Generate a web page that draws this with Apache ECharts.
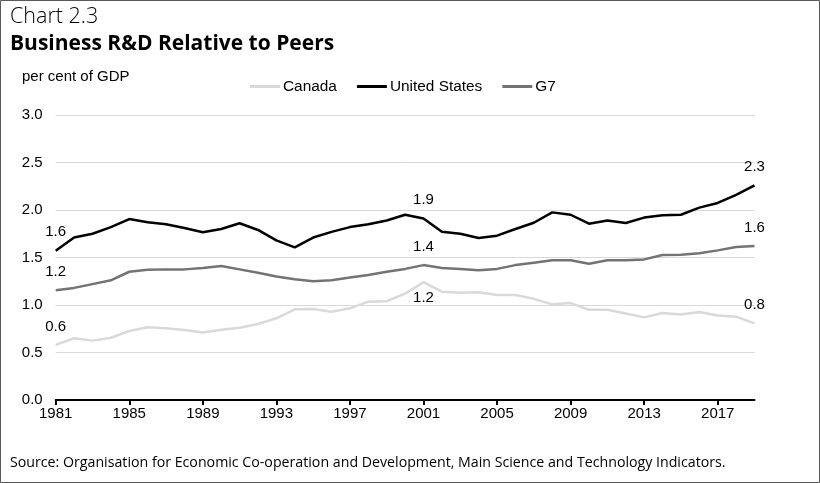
<!DOCTYPE html>
<html><head><meta charset="utf-8">
<script src="https://cdn.jsdelivr.net/npm/echarts@6/dist/echarts.min.js"></script>
<style>html,body{margin:0;padding:0;background:#fff}#c{width:820px;height:483px}</style>
</head><body><div id="c"></div>
<script>
const years = [];
for (let y = 1981; y <= 2019; y++) years.push(String(y));
const canada = [0.58,0.65,0.625,0.655,0.726,0.765,0.755,0.737,0.71,0.74,0.76,0.80,0.86,0.955,0.958,0.93,0.965,1.035,1.04,1.12,1.24,1.14,1.13,1.135,1.105,1.105,1.065,1.007,1.02,0.95,0.95,0.91,0.87,0.915,0.90,0.926,0.89,0.877,0.807];
const us = [1.57,1.71,1.75,1.82,1.905,1.87,1.85,1.81,1.765,1.80,1.86,1.79,1.68,1.607,1.71,1.77,1.82,1.85,1.89,1.95,1.91,1.77,1.75,1.705,1.73,1.80,1.866,1.975,1.95,1.856,1.89,1.863,1.92,1.944,1.95,2.025,2.074,2.16,2.26];
const g7 = [1.155,1.18,1.22,1.26,1.35,1.37,1.375,1.375,1.39,1.41,1.375,1.34,1.30,1.27,1.25,1.26,1.29,1.315,1.35,1.38,1.42,1.39,1.38,1.365,1.38,1.42,1.445,1.47,1.47,1.435,1.47,1.47,1.48,1.526,1.53,1.544,1.575,1.61,1.62];
const labelIdx = [0, 20, 38];

function withLabels(arr, posFn) {
  return arr.map((v, i) => labelIdx.includes(i) ? {
    value: v,
    label: {show: true, position: posFn(i), distance: posFn(i) === 'top' ? 11 : 8, formatter: p => (+p.value).toFixed(1),
      fontFamily: 'Liberation Sans', fontSize: 15, color: '#000'}
  } : v);
}

const chart = echarts.init(document.getElementById('c'));
chart.setOption({
  animation: false,
  graphic: [
    {type: 'rect', shape: {x: 0.5, y: 0.5, width: 819, height: 482}, style: {fill: 'none', stroke: '#595959', lineWidth: 1}},
    {type: 'text', left: 10, top: 6, style: {text: 'Chart 2.3', font: '300 21.5px "Open Sans"', fill: '#000'}},
    {type: 'text', left: 10, top: 34, style: {text: 'Business R&D Relative to Peers', font: 'bold 21px "Open Sans"', fill: '#000'}},
    {type: 'text', left: 22, top: 69, style: {text: 'per cent of GDP', font: '15px "Liberation Sans"', fill: '#000'}},
    {type: 'text', left: 10, top: 456, style: {text: 'Source: Organisation for Economic Co-operation and Development, Main Science and Technology Indicators.', font: '14.2px "Open Sans"', fill: '#000'}}
  ],
  legend: {
    top: 74, left: 245, itemWidth: 30, itemHeight: 3, itemGap: 20,
    icon: 'rect',
    textStyle: {fontFamily: 'Liberation Sans', fontSize: 15.4, color: '#000', padding: [0, 0, 0, -2]},
    data: ['Canada', 'United States', 'G7']
  },
  grid: {left: 55.7, right: 65.5, top: 115, bottom: 83, containLabel: false},
  xAxis: {
    type: 'category', data: years, boundaryGap: false,
    axisLine: {lineStyle: {color: '#000', width: 2}},
    axisTick: {show: true, interval: 3, length: 5, lineStyle: {color: '#000', width: 2}},
    axisLabel: {interval: 3, fontFamily: 'Liberation Sans', fontSize: 15, color: '#000', margin: 6}
  },
  yAxis: {
    type: 'value', min: 0, max: 3, interval: 0.5,
    axisLine: {show: false}, axisTick: {show: false},
    splitLine: {lineStyle: {color: '#d9d9d9', width: 1}},
    axisLabel: {formatter: v => v.toFixed(1), fontFamily: 'Liberation Sans', fontSize: 15, color: '#000', margin: 13}
  },
  series: [
    {name: 'Canada', type: 'line', data: withLabels(canada, i => i === 20 ? 'bottom' : 'top'), symbol: 'circle', symbolSize: 0, showSymbol: true,
      lineStyle: {color: '#d9d9d9', width: 2.5}, itemStyle: {color: '#d9d9d9'}},
    {name: 'United States', type: 'line', data: withLabels(us, () => 'top'), symbol: 'circle', symbolSize: 0, showSymbol: true,
      lineStyle: {color: '#000', width: 2.5}, itemStyle: {color: '#000'}},
    {name: 'G7', type: 'line', data: withLabels(g7, () => 'top'), symbol: 'circle', symbolSize: 0, showSymbol: true,
      lineStyle: {color: '#737373', width: 2.5}, itemStyle: {color: '#737373'}}
  ]
});
</script></body></html>
